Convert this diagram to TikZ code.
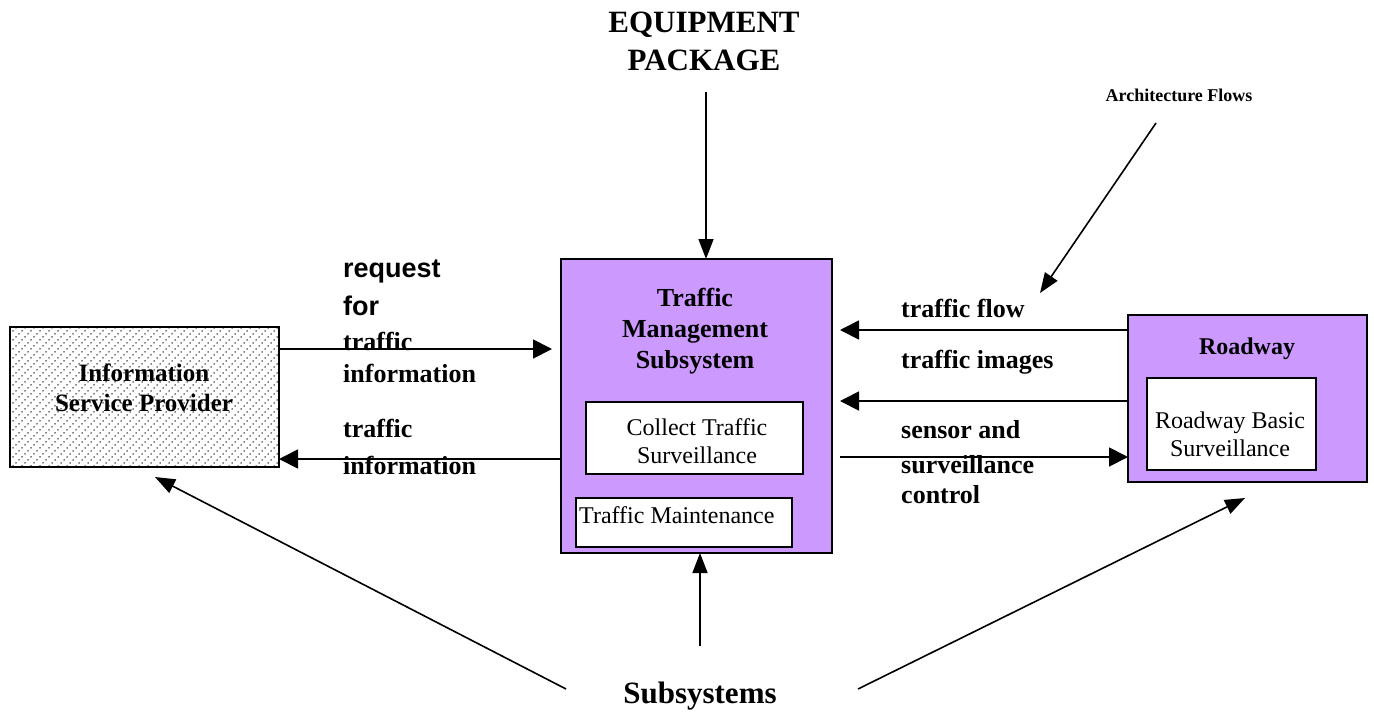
\documentclass[tikz,border=0pt]{standalone}
\usepackage{fontspec}
\setmainfont{Liberation Serif}
\newfontfamily\sansfam{Liberation Sans}
\usetikzlibrary{arrows.meta,patterns}

\definecolor{lavender}{RGB}{204,153,255}

% small dots set in rising diagonal rows
\pgfdeclarepatternformonly{speckle}{\pgfpoint{-0.5pt}{-0.5pt}}{\pgfpoint{9.5pt}{9.5pt}}{\pgfpoint{9pt}{9pt}}{%
  \pgfpathcircle{\pgfpoint{1pt}{1pt}}{0.75pt}%
  \pgfpathcircle{\pgfpoint{4pt}{4pt}}{0.75pt}%
  \pgfpathcircle{\pgfpoint{7pt}{7pt}}{0.75pt}%
  \pgfusepath{fill}}

\tikzset{
  box/.style={draw, line width=2.4pt, inner sep=0pt, outer sep=0pt},
  subsys/.style={box, fill=lavender},
  hatched/.style={box, pattern=speckle, pattern color=black},
  inner/.style={draw, fill=white, line width=2pt, inner sep=0pt, outer sep=0pt},
  flow/.style={line width=1.8pt, -{Triangle[length=19pt,width=19pt]}},
  pointer/.style={line width=1.6pt, -{Triangle[length=20pt,width=15pt]}},
  bigbold/.style={font=\fontsize{31}{38}\selectfont\bfseries, align=center, inner sep=0pt, anchor=base},
  namebold/.style={font=\fontsize{25}{31}\selectfont\bfseries, align=center, inner sep=0pt, anchor=base},
  plain/.style={font=\fontsize{24}{28}\selectfont, align=center, inner sep=0pt, anchor=base},
  lbl/.style={font=\fontsize{26}{32}\selectfont\bfseries, align=left, inner sep=0pt, anchor=base west},
  lblsans/.style={font=\fontsize{27}{38}\selectfont\sansfam\bfseries, align=left, inner sep=0pt, anchor=base west},
}

\begin{document}
\begin{tikzpicture}[x=1pt, y=-1pt]
\useasboundingbox (0,0) rectangle (1374,713);
\fill[white] (0,0) rectangle (1374,713);

% subsystem boxes
\node[hatched, minimum width=269pt, minimum height=140pt] (isp) at (144.5,397) {};
\node[subsys, minimum width=271pt, minimum height=294pt] (tms) at (696.5,406) {};
\node[inner, minimum width=217pt, minimum height=72pt] (cts) at (694.5,438) {};
\node[inner, minimum width=216pt, minimum height=49pt] (tmaint) at (684,522.5) {};
\node[subsys, minimum width=239pt, minimum height=167pt] (road) at (1247.5,398.5) {};
\node[inner, minimum width=169pt, minimum height=92pt] (rbs) at (1231.5,424) {};

% box texts (multi-line nodes sit on the baseline of their last line)
\node[namebold, font=\fontsize{25}{30}\selectfont\bfseries] (isp-t) at (144,411) {Information\\Service Provider};
\node[namebold, font=\fontsize{26}{31}\selectfont\bfseries] (tms-t) at (695,368) {Traffic\\Management\\Subsystem};
\node[plain] (cts-t) at (697,463) {Collect Traffic\\Surveillance};
\node[plain, anchor=base west] (tmaint-t) at (579,523) {Traffic Maintenance};
\node[namebold, font=\fontsize{24}{30}\selectfont\bfseries] (road-t) at (1247,354) {Roadway};
\node[plain] (rbs-t) at (1230,456) {Roadway Basic\\Surveillance};

% headings
\node[bigbold] (equip) at (704,70) {EQUIPMENT\\PACKAGE};
\node[namebold, font=\fontsize{18}{22}\selectfont\bfseries] (arch) at (1179,101) {Architecture Flows};
\node[bigbold] (subs) at (700,703) {Subsystems};

% flow labels
\node[lblsans] (l-req) at (343,315) {request\\for};
\node[lbl] (l-req2) at (343,382) {traffic\\information};
\node[lbl, font=\fontsize{26}{37}\selectfont\bfseries] (l-info) at (343,474) {traffic\\information};
\node[lbl] (l-flow) at (901,317) {traffic flow};
\node[lbl] (l-img) at (901,368) {traffic images};
\node[lbl, font=\fontsize{26}{35}\selectfont\bfseries] (l-sens) at (901,503) {sensor and\\surveillance\\[-5pt]control};

% architecture flows
\coordinate (req-tip) at (552,349);
\draw[flow] (isp.east |- req-tip) -- (req-tip);
\coordinate (info-tail) at (561,459);
\draw[flow] (tms.west |- info-tail) -- (isp.east |- info-tail);
\coordinate (flow-tip) at (840,330);
\draw[flow] (road.west |- flow-tip) -- (flow-tip);
\coordinate (img-tip) at (840,401);
\draw[flow] (road.west |- img-tip) -- (img-tip);
\coordinate (sens-tail) at (840,457);
\draw[flow] (sens-tail) -- (road.west |- sens-tail);

% pointers from the headings
\coordinate (eq-start) at (706,92);
\draw[pointer] (eq-start) -- (tms.north -| eq-start);
\coordinate (arch-start) at (1156,123);
\coordinate (arch-tip) at (1040,293);
\draw[pointer] (arch-start) -- (arch-tip);
\coordinate (sub-up) at (700,646);
\draw[pointer] (sub-up) -- (tms.south -| sub-up);
\coordinate (sub-left) at (566,689);
\coordinate (isp-hit) at (155,477);
\draw[pointer] (sub-left) -- (isp-hit);
\coordinate (sub-right) at (858,689);
\coordinate (road-hit) at (1245,498);
\draw[pointer] (sub-right) -- (road-hit);
\end{tikzpicture}
\end{document}
